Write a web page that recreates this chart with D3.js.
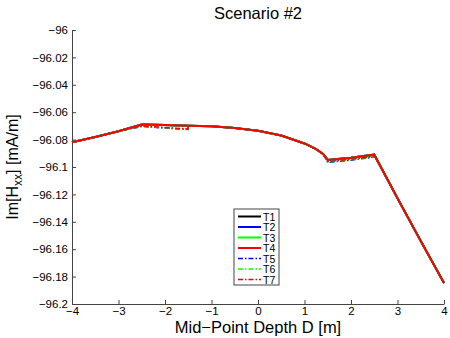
<!DOCTYPE html>
<html>
<head>
<meta charset="utf-8">
<script src="https://cdn.jsdelivr.net/npm/d3@7"></script>
<style>
body { margin: 0; background: #fff; }
text { font-family: "Liberation Sans", Arial, sans-serif; }
</style>
</head>
<body>
<svg id="chart" width="450" height="338"></svg>
<script>
// mid-point depth samples
const depth = [-4, -3.5, -3, -2.5, -2, -1.5, -1, -0.5, 0, 0.5, 1, 1.25, 1.4, 1.5, 2, 2.5, 3, 3.5, 4];

// solid series T1..T4 (they coincide)
const solidT1 = [-96.0820, -96.0781, -96.0739, -96.0690, -96.0694, -96.0699, -96.0703, -96.0715, -96.0735, -96.0770, -96.0828, -96.0870, -96.0905, -96.0948, -96.0932, -96.0910, -96.1228, -96.1540, -96.1847];
const solidT2 = solidT1.slice();
const solidT3 = solidT1.slice();
const solidT4 = solidT1.slice();

// dash-dot series T5..T7 differ only on [-2.5,-1.5] and [1.5,2.5]
const dashX = [-4, -3.5, -3, -2.5, -2, -1.5, -1.5, -1, -0.5, 0, 0.5, 1, 1.25, 1.4, 1.5, 2, 2.5, 2.5, 3, 3.5, 4];
const dashT5 = [-96.0820, -96.0781, -96.0739, -96.0704, -96.0716, -96.0726, -96.0699, -96.0703, -96.0715, -96.0735, -96.0770, -96.0828, -96.0870, -96.0905, -96.0966, -96.0950, -96.0928, -96.0910, -96.1228, -96.1540, -96.1847];
const dashT6 = [-96.0820, -96.0781, -96.0739, -96.0702, -96.0714, -96.0724, -96.0699, -96.0703, -96.0715, -96.0735, -96.0770, -96.0828, -96.0870, -96.0905, -96.0963, -96.0947, -96.0925, -96.0910, -96.1228, -96.1540, -96.1847];
const dashT7 = [-96.0820, -96.0781, -96.0739, -96.0700, -96.0712, -96.0722, -96.0699, -96.0703, -96.0715, -96.0735, -96.0770, -96.0828, -96.0870, -96.0905, -96.0960, -96.0944, -96.0922, -96.0910, -96.1228, -96.1540, -96.1847];

const xTicks = [-4, -3, -2, -1, 0, 1, 2, 3, 4];
const yTicks = [-96, -96.02, -96.04, -96.06, -96.08, -96.1, -96.12, -96.14, -96.16, -96.18, -96.2];

const series = [
	{ name: "T1", x: depth, y: solidT1, color: "#000000", dash: null },
	{ name: "T2", x: depth, y: solidT2, color: "#0000ff", dash: null },
	{ name: "T3", x: depth, y: solidT3, color: "#00ff00", dash: null },
	{ name: "T4", x: depth, y: solidT4, color: "#ff0000", dash: null },
	{ name: "T5", x: dashX, y: dashT5, color: "#0000ff", dash: "5,2,1.5,2" },
	{ name: "T6", x: dashX, y: dashT6, color: "#00ff00", dash: "5,2,1.5,2" },
	{ name: "T7", x: dashX, y: dashT7, color: "#ff0000", dash: "5,2,1.5,2" }
];

const svg = d3.select("#chart");
const mLeft = 72, mRight = 444, mTop = 30, mBottom = 304;

const x = d3.scaleLinear().domain([-4, 4]).range([mLeft, mRight]);
const y = d3.scaleLinear().domain([-96.2, -96]).range([mBottom, mTop]);

const fmt = v => String(v).replace("-", "\u2212");

// axes
const xAxis = svg.append("g").attr("transform", `translate(0,${mBottom})`)
	.call(d3.axisBottom(x).tickValues(xTicks).tickSizeInner(-4).tickSizeOuter(0).tickPadding(5).tickFormat(fmt));
const yAxis = svg.append("g").attr("transform", `translate(${mLeft},0)`)
	.call(d3.axisLeft(y).tickValues(yTicks).tickSizeInner(-4).tickSizeOuter(0).tickPadding(4).tickFormat(fmt));
[xAxis, yAxis].forEach(a => {
	a.select(".domain").attr("stroke", "#444");
	a.selectAll(".tick line").attr("stroke", "#444");
	a.selectAll(".tick text").attr("font-size", 11.5).attr("fill", "#000")
		.attr("font-family", "Liberation Sans, Arial, sans-serif");
});
xAxis.selectAll(".tick text").attr("dy", "0.55em");

// lines
const line = d3.line().x(d => x(d[0])).y(d => y(d[1]));
svg.append("g").selectAll("path").data(series.slice(4).concat(series.slice(0, 4))).enter().append("path")
	.attr("d", s => line(s.x.map((v, i) => [v, s.y[i]])))
	.attr("fill", "none")
	.attr("stroke", s => s.color)
	.attr("stroke-width", s => s.dash ? 1.5 : 2)
	.attr("stroke-dasharray", s => s.dash);

// title and labels
svg.append("text").attr("x", 258).attr("y", 19).attr("text-anchor", "middle")
	.attr("font-size", 16.5).text("Scenario #2");
svg.append("text").attr("x", 258).attr("y", 333).attr("text-anchor", "middle")
	.attr("font-size", 16.5).text("Mid\u2212Point Depth D [m]");
const yl = svg.append("text").attr("transform", "translate(18,167) rotate(-90)")
	.attr("text-anchor", "middle").attr("font-size", 16);
yl.append("tspan").text("Im[H");
yl.append("tspan").attr("font-size", 12).attr("dy", 4).text("xx");
yl.append("tspan").attr("dy", -4).text("] [mA/m]");

// legend
const lg = svg.append("g").attr("transform", "translate(234,209)");
lg.append("rect").attr("width", 45).attr("height", 76).attr("fill", "#fff")
	.attr("stroke", "#444").attr("stroke-width", 1);
const item = lg.selectAll(".item").data(series).enter().append("g")
	.attr("transform", (d, i) => `translate(0,${7.5 + i * 10.5})`);
item.append("line").attr("x1", 4).attr("x2", 27).attr("y1", 0).attr("y2", 0)
	.attr("stroke", d => d.color).attr("stroke-width", d => d.dash ? 1.5 : 2)
	.attr("stroke-dasharray", d => d.dash);
item.append("text").attr("x", 29).attr("y", 4).attr("font-size", 10.5).text(d => d.name);
</script>
</body>
</html>
